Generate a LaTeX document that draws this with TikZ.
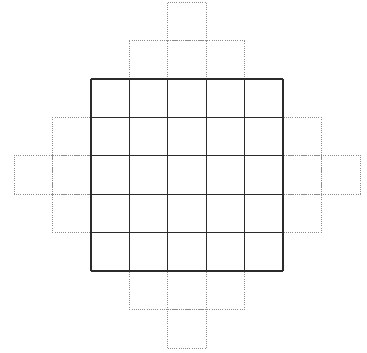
\documentclass[tikz,border=0pt]{standalone}
\usepackage{xcolor}
\usepackage{tikz}
\definecolor{ink}{HTML}{2B2B2B}
\definecolor{faint}{HTML}{8C8C8C}
\tikzset{
  solidgrid/.style={draw=ink,line width=1pt},
  dotgrid/.style={draw=faint,line width=0.6pt,densely dotted},
}
\begin{document}
\begin{tikzpicture}[x=1cm,y=1cm]
    \useasboundingbox[fill=white] (-0.364,-0.104) rectangle (9.18,9.052);
    % dotted cells round the square
    \foreach \a/\b in {{(4,0)}/{(5,1)},{(3,1)}/{(6,2)},{(1,3)}/{(8,6)},{(0,4)}/{(9,5)},{(3,7)}/{(6,8)},{(4,8)}/{(5,9)}}
      \draw[dotgrid] \a grid \b;
    % the solid 5x5 square
    \draw[solidgrid] (2,2) grid (7,7);
  \end{tikzpicture}
\end{document}
